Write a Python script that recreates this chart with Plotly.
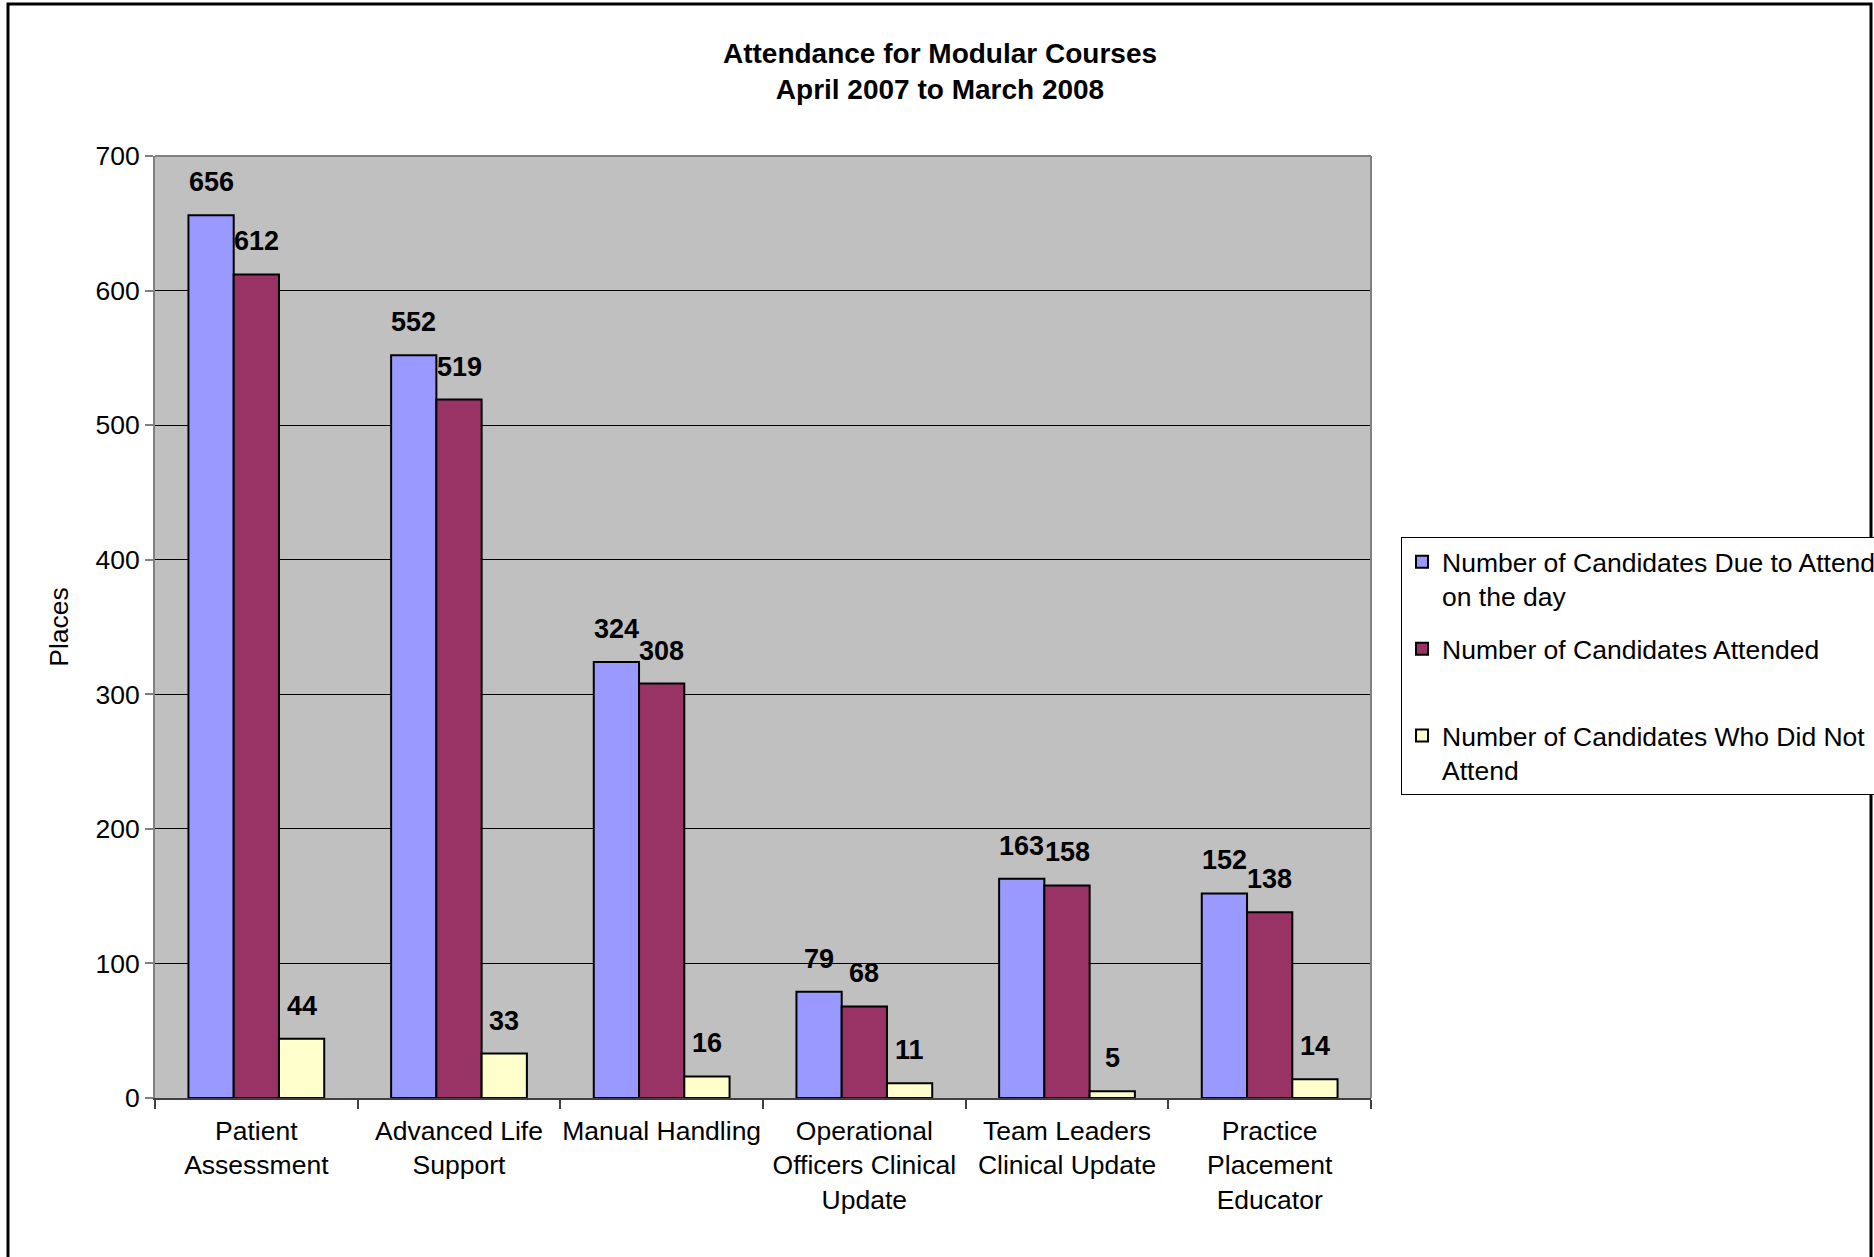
import plotly.graph_objects as go

categories = ["Patient<br>Assessment", "Advanced Life<br>Support", "Manual Handling",
              "Operational<br>Officers Clinical<br>Update", "Team Leaders<br>Clinical Update",
              "Practice<br>Placement<br>Educator"]
due = [656, 552, 324, 79, 163, 152]
attended = [612, 519, 308, 68, 158, 138]
did_not = [44, 33, 16, 11, 5, 14]
series_names = ["Number of Candidates Due to Attend<br>on the day",
                "Number of Candidates Attended<br> ",
                "Number of Candidates Who Did Not<br>Attend"]
colors = ["#9999FF", "#993366", "#FFFFCC"]
y_ticks = [0, 100, 200, 300, 400, 500, 600, 700]

FONT = "Liberation Sans, Arial, sans-serif"
W, H = 1874, 1257
L, R, T, B = 155, 1874 - 1371, 156, 1257 - 1098
pw, ph = W - L - R, H - T - B

fig = go.Figure()
for k, (name, vals, col) in enumerate(zip(series_names, [due, attended, did_not], colors)):
    fig.add_trace(go.Bar(x=categories, y=vals, name=name, legendgroup="g%d" % k,
                         marker=dict(color=col, line=dict(color="black", width=2))))

# data labels
cat_w = pw / len(categories)
bar_w = cat_w * 0.67 / 3
for i, vals in enumerate([due, attended, did_not]):
    for c, v in zip(categories, vals):
        fig.add_annotation(x=c, y=v, xref="x", yref="y", text="<b>%d</b>" % v,
                           showarrow=False, xshift=(i - 1) * bar_w, yshift=33,
                           font=dict(family=FONT, size=27, color="black"))

fig.update_layout(
    width=W, height=H,
    margin=dict(l=L, r=R, t=T, b=B, autoexpand=False),
    paper_bgcolor="white", plot_bgcolor="#C0C0C0",
    barmode="group", bargap=0.33, bargroupgap=0,
    font=dict(family=FONT, size=26.5, color="black"),
    title=dict(text="<b>Attendance for Modular Courses<br>April 2007 to March 2008</b>",
               x=940 / W, xanchor="center", xref="container", y=1 - 63 / H, yanchor="middle",
               yref="container", font=dict(family=FONT, size=28, color="black")),
    legend=dict(x=(1401 - L) / pw, xanchor="left", y=(1098 - 537) / ph, yanchor="top",
                bordercolor="black", borderwidth=1, bgcolor="white",
                font=dict(family=FONT, size=26.5, color="black"), valign="top",
                tracegroupgap=15, itemsizing="constant"),
    showlegend=True,
)
fig.update_xaxes(showgrid=False, showline=True, linecolor="#404040", linewidth=2,
                 ticks="outside", tickson="boundaries", ticklen=9, tickcolor="#404040",
                 tickwidth=2, mirror=False, tickfont=dict(size=26.5), tickangle=0,
                 ticklabelstandoff=8)
fig.update_yaxes(range=[0, 700], tickvals=y_ticks, showgrid=True, gridcolor="black",
                 gridwidth=1, showline=True, linecolor="#808080", linewidth=2,
                 ticks="outside", ticklen=8, tickcolor="#808080", tickwidth=2,
                 zeroline=False, tickfont=dict(size=26.5),
                 title=dict(text="Places", standoff=19, font=dict(size=26.5)))

# plot area top/right edges (gray)
fig.add_shape(type="line", xref="paper", yref="paper", x0=0, x1=1, y0=1, y1=1,
              line=dict(color="#808080", width=2))
fig.add_shape(type="line", xref="paper", yref="paper", x0=1, x1=1, y0=0, y1=1,
              line=dict(color="#808080", width=2))
# outer chart frame
fig.add_shape(type="rect", xref="paper", yref="paper",
              x0=(8 - L) / pw, x1=(1871 - L) / pw, y0=-0.3, y1=(1098 - 4) / ph,
              line=dict(color="black", width=3), layer="above")

fig.write_html("out.html")
